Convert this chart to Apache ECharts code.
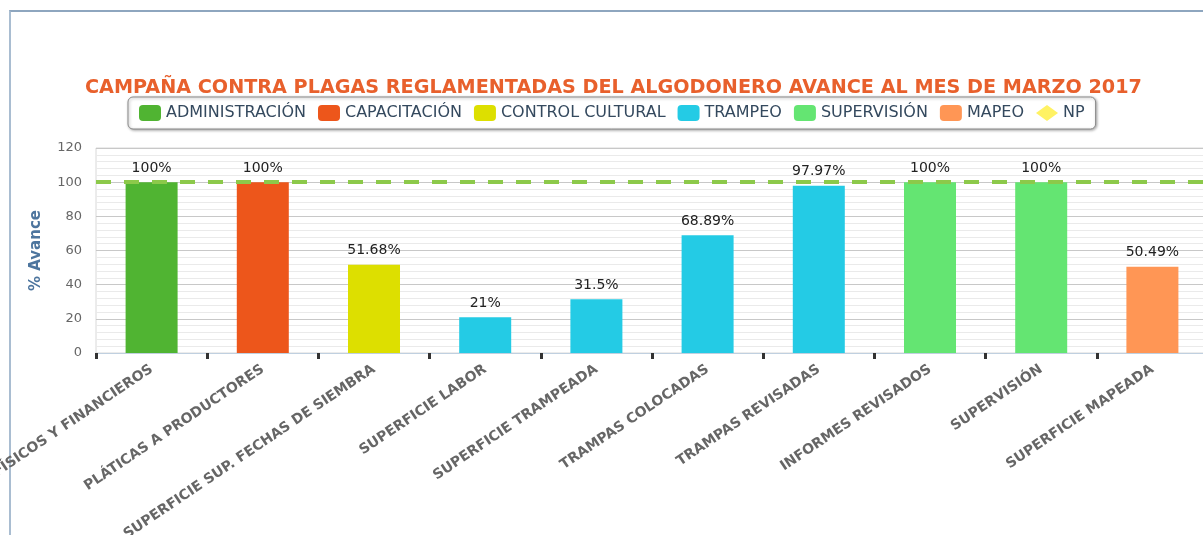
<!DOCTYPE html>
<html>
<head>
<meta charset="utf-8">
<script src="https://cdn.jsdelivr.net/npm/echarts@6/dist/echarts.min.js"></script>
<style>
  html, body { margin: 0; padding: 0; background: #ffffff; }
  #frame { position: absolute; left: 9px; top: 10px; width: 1194px; height: 525px;
           border-top: 2px solid #8ea6bf; border-left: 2px solid #a9bdd1; box-sizing: border-box; }
  #chart { position: absolute; left: 0; top: 0; width: 1203px; height: 535px; }
</style>
</head>
<body>
<div id="frame"></div>
<div id="chart"></div>
<script>
// ---- data ----
const titleText = 'CAMPAÑA CONTRA PLAGAS REGLAMENTADAS DEL ALGODONERO AVANCE AL MES DE MARZO 2017';
const categories = [
  'RECURSOS FÍSICOS Y FINANCIEROS',
  'PLÁTICAS A PRODUCTORES',
  'SUPERFICIE SUP. FECHAS DE SIEMBRA',
  'SUPERFICIE LABOR',
  'SUPERFICIE TRAMPEADA',
  'TRAMPAS COLOCADAS',
  'TRAMPAS REVISADAS',
  'INFORMES REVISADOS',
  'SUPERVISIÓN',
  'SUPERFICIE MAPEADA'
];
const administracion = [100, null, null, null, null, null, null, null, null, null];
const capacitacion   = [null, 100, null, null, null, null, null, null, null, null];
const controlCultural= [null, null, 51.68, null, null, null, null, null, null, null];
const trampeo        = [null, null, null, 21, 31.5, 68.89, 97.97, null, null, null];
const supervision    = [null, null, null, null, null, null, null, 100, 100, null];
const mapeo          = [null, null, null, null, null, null, null, null, null, 50.49];
const npTarget = 100;
const yTicks = [0, 20, 40, 60, 80, 100, 120];
const yAxisName = '% Avance';

const FONT = 'DejaVu Sans';
const chart = echarts.init(document.getElementById('chart'), null, { renderer: 'canvas' });

function barSeries(name, data, color) {
  return {
    name: name,
    type: 'bar',
    stack: 'all',
    data: data,
    barWidth: 52,
    itemStyle: { color: color },
    label: {
      show: true,
      position: 'top',
      distance: 7,
      color: '#222',
      fontFamily: FONT,
      fontSize: 14,
      formatter: p => (p.value == null ? '' : p.value + '%')
    }
  };
}

const legendText = { color: '#34495e', fontFamily: FONT, fontSize: 16 };

chart.setOption({
  animation: false,
  backgroundColor: 'transparent',
  title: {
    text: titleText,
    left: 80,
    top: 74,
    textStyle: { color: '#e8602c', fontFamily: FONT, fontWeight: 'bold', fontSize: 19.2 }
  },
  legend: {
    top: 97,
    left: 128,
    padding: [8, 11, 8, 11],
    itemGap: 12,
    itemWidth: 22,
    itemHeight: 16,
    borderColor: '#8a8a8a',
    borderWidth: 1,
    borderRadius: 5,
    backgroundColor: '#ffffff',
    shadowColor: 'rgba(0,0,0,0.35)',
    shadowBlur: 3,
    shadowOffsetX: 1,
    shadowOffsetY: 1,
    textStyle: legendText,
    data: [
      { name: 'ADMINISTRACIÓN', icon: 'roundRect' },
      { name: 'CAPACITACIÓN', icon: 'roundRect' },
      { name: 'CONTROL CULTURAL', icon: 'roundRect' },
      { name: 'TRAMPEO', icon: 'roundRect' },
      { name: 'SUPERVISIÓN', icon: 'roundRect' },
      { name: 'MAPEO', icon: 'roundRect' },
      { name: 'NP', icon: 'diamond' }
    ]
  },
  grid: {
    left: 96, top: 148, width: 1112, height: 205,
    containLabel: false,
    outerBoundsMode: 'none',
    show: true, borderColor: '#d8d8d8', borderWidth: 1, backgroundColor: '#ffffff'
  },
  xAxis: {
    type: 'category',
    data: categories,
    boundaryGap: true,
    axisLine: { lineStyle: { color: '#c0d0e0', width: 1 } },
    axisTick: { show: true, length: 6, lineStyle: { color: '#333', width: 3 } },
    axisLabel: {
      interval: 0,
      rotate: 34,
      margin: 15,
      color: '#666',
      fontFamily: FONT,
      fontWeight: 'bold',
      fontSize: 14
    }
  },
  yAxis: {
    type: 'value',
    min: yTicks[0],
    max: yTicks[yTicks.length - 1],
    interval: 20,
    name: yAxisName,
    nameLocation: 'middle',
    nameGap: 52,
    nameTextStyle: { color: '#4d759e', fontFamily: FONT, fontWeight: 'bold', fontSize: 15 },
    axisLine: { show: false },
    axisTick: { show: false },
    axisLabel: { color: '#666', fontFamily: FONT, fontSize: 13, margin: 14 },
    splitLine: { lineStyle: { color: '#c8c8c8', width: 1 } },
    minorTick: { show: false, splitNumber: 5 },
    minorSplitLine: { show: true, lineStyle: { color: '#eaeaea', width: 1 } }
  },
  series: [
    barSeries('ADMINISTRACIÓN', administracion, '#50b432'),
    barSeries('CAPACITACIÓN', capacitacion, '#ed561b'),
    barSeries('CONTROL CULTURAL', controlCultural, '#dddf00'),
    barSeries('TRAMPEO', trampeo, '#24cbe5'),
    barSeries('SUPERVISIÓN', supervision, '#64e572'),
    barSeries('MAPEO', mapeo, '#ff9655'),
    {
      name: 'NP',
      type: 'line',
      data: [],
      symbol: 'diamond',
      itemStyle: { color: '#fff263' },
      lineStyle: { color: '#fff263' },
      markLine: {
        silent: true,
        symbol: 'none',
        label: { show: false },
        lineStyle: { color: '#8cc94a', type: [15, 13], width: 4 },
        data: [{ yAxis: npTarget }]
      }
    }
  ]
});
</script>
</body>
</html>
